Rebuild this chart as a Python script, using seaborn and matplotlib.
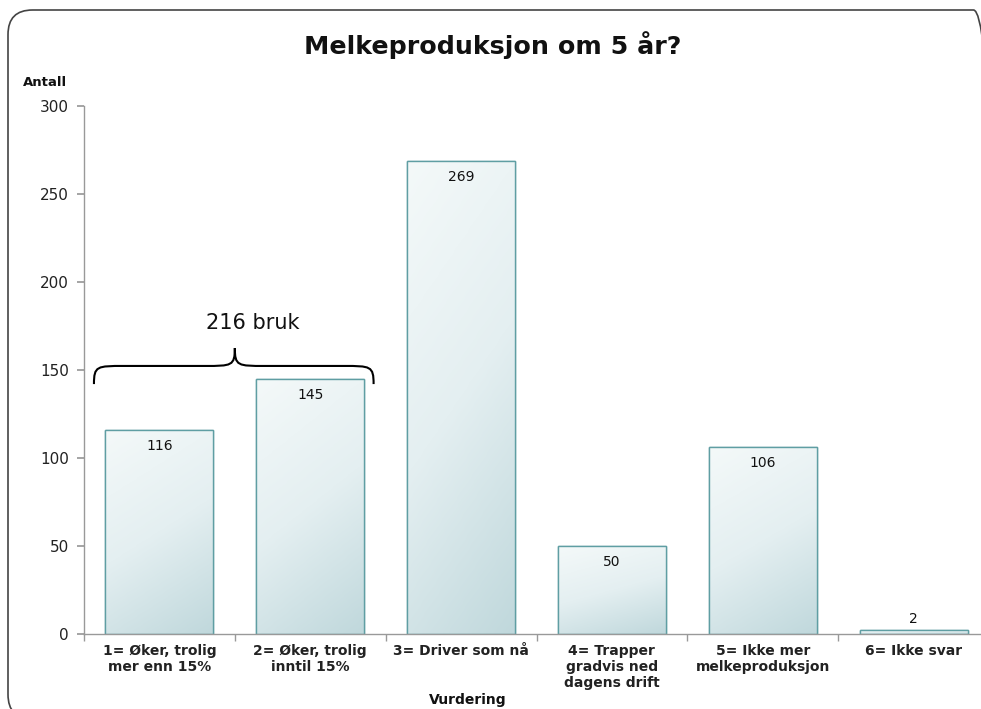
import numpy as np
import pandas as pd
import matplotlib
matplotlib.use("Agg")
import matplotlib.pyplot as plt
import seaborn as sns
from matplotlib.patches import FancyBboxPatch, PathPatch
from matplotlib.path import Path
from matplotlib.colors import LinearSegmentedColormap

categories = ["1= Øker, trolig\nmer enn 15%", "2= Øker, trolig\ninntil 15%", "3= Driver som nå",
              "4= Trapper\ngradvis ned\ndagens drift", "5= Ikke mer\nmelkeproduksjon", "6= Ikke svar"]
values = [116, 145, 269, 50, 106, 2]
yticks = [0, 50, 100, 150, 200, 250, 300]
title = "Melkeproduksjon om 5 år?"
ylabel = "Antall"
xlabel = "Vurdering"
brace_label = "216 bruk"

sns.set_theme(style="white")
plt.rcParams['font.family'] = ['DejaVu Sans']

W, H = 981, 709
fig = plt.figure(figsize=(W / 100, H / 100), dpi=100)
ax = fig.add_axes([84 / W, 1 - 634 / H, 905 / W, 528 / H])

df = pd.DataFrame({"cat": categories, "val": values})
sns.barplot(data=df, x="cat", y="val", ax=ax, width=0.715, color="#dcebed",
            edgecolor="#5f9ea3", linewidth=1.0, saturation=1)

ax.set_ylim(0, 300)
ax.set_xlim(-0.5, len(categories) - 0.5)
ax.set_yticks(yticks)
ax.set_yticklabels([str(t) for t in yticks], fontsize=11, color="#222222")
ax.set_xticks(range(len(categories)))
ax.set_xticklabels(categories, fontsize=10, fontweight="bold", color="#222222", linespacing=1.2)
ax.set_xticks(np.arange(-0.5, len(categories), 1.0), minor=True)
ax.tick_params(axis="x", which="major", length=0, pad=7)
ax.tick_params(axis="x", which="minor", length=5, color="#999999", direction="out", bottom=True)
ax.tick_params(axis="y", length=5, color="#999999", direction="out", left=True, pad=6)
ax.set_xlabel("")
ax.set_ylabel("")
for s in ["top", "right"]:
    ax.spines[s].set_visible(False)
for s in ["left", "bottom"]:
    ax.spines[s].set_color("#999999")
    ax.spines[s].set_linewidth(1.0)

# gradient fill for bars (light top-left, darker teal at bottom)
cmap = LinearSegmentedColormap.from_list("g", ["#f4f9f9", "#e4eff1", "#c0d8dc"])
yy, xx = np.mgrid[0:1:100j, 0:1:60j]
grad = 0.75 * yy + 0.25 * xx
for p in list(ax.patches):
    x0, y0 = p.get_x(), p.get_y()
    w, h = p.get_width(), p.get_height()
    im = ax.imshow(grad, cmap=cmap, extent=[x0, x0 + w, y0, y0 + h], origin="upper",
                   aspect="auto", zorder=p.get_zorder() + 0.1, interpolation="bilinear")
    im.set_clip_path(p)
    ax.add_patch(plt.Rectangle((x0, y0), w, h, fill=False, edgecolor="#5f9ea3",
                               linewidth=1.0, zorder=p.get_zorder() + 0.2))
ax.set_xlim(-0.5, len(categories) - 0.5)
ax.set_ylim(0, 300)

# data labels
for i, v in enumerate(values):
    if v > 20:
        ax.annotate(str(v), (i, v), xytext=(0, -11.5), textcoords="offset points",
                    ha="center", va="center", fontsize=10, color="#111111", zorder=5)
    else:
        ax.annotate(str(v), (i, v), xytext=(0, 8), textcoords="offset points",
                    ha="center", va="center", fontsize=10, color="#111111", zorder=5)

# brace over the first two bars
xl, xr, xm = -0.434, 1.42, 0.5
yb, yh, yt = 142, 152.3, 162.5
dx = 0.2
verts = [(xl, yb), (xl, yh), (xl + 0.02, yh), (xl + dx, yh),
         (xm - dx, yh), (xm - 0.02, yh), (xm, yh), (xm, yt),
         (xm, yh), (xm + 0.02, yh), (xm + dx, yh),
         (xr - dx, yh), (xr - 0.02, yh), (xr, yh), (xr, yb)]
codes = [Path.MOVETO, Path.CURVE4, Path.CURVE4, Path.CURVE4,
         Path.LINETO, Path.CURVE4, Path.CURVE4, Path.CURVE4,
         Path.CURVE4, Path.CURVE4, Path.CURVE4,
         Path.LINETO, Path.CURVE4, Path.CURVE4, Path.CURVE4]
ax.add_patch(PathPatch(Path(verts, codes), fill=False, edgecolor="black", linewidth=1.5,
                       zorder=6, clip_on=False))
ax.text(0.62, 176.5, brace_label, ha="center", va="center", fontsize=15, color="#111111")

# texts
fig.text(493 / W, 1 - 45 / H, title, ha="center", va="center", fontsize=18.3,
         fontweight="bold", family=["DejaVu Sans"], color="#111111")
fig.text(45 / W, 1 - 82 / H, ylabel, ha="center", va="center", fontsize=9.5,
         fontweight="bold", color="#111111")
fig.text(468 / W, 1 - 700 / H, xlabel, ha="center", va="center", fontsize=10,
         fontweight="bold", color="#111111")

# rounded frame
frame = FancyBboxPatch((8 / W, -10 / H), 990 / W, 709 / H,
                       boxstyle="round,pad=0,rounding_size=0.025",
                       transform=fig.transFigure, fill=False, edgecolor="#444444",
                       linewidth=1.2, mutation_aspect=W / H)
fig.patches.append(frame)

fig.savefig("out.png", dpi=100)
